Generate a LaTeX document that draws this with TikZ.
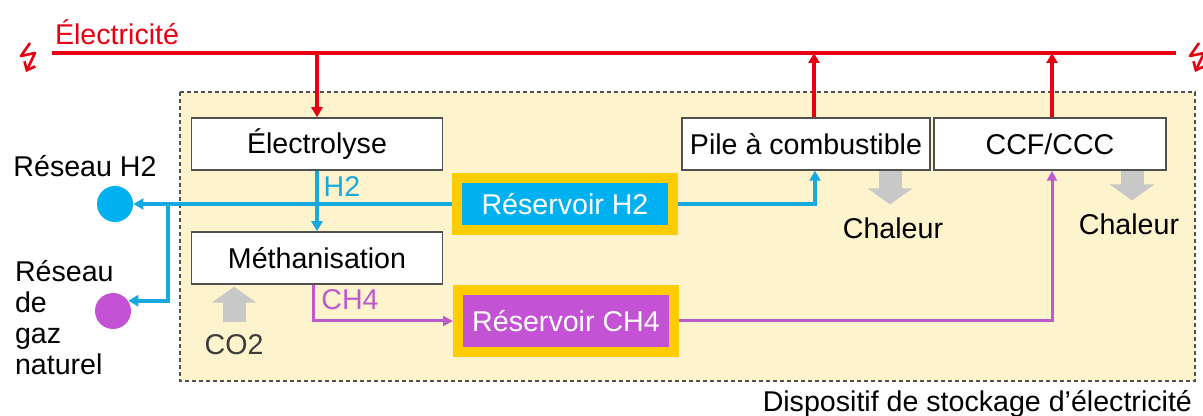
\documentclass[tikz,border=0pt]{standalone}
\usepackage{fontspec}
\setmainfont{Liberation Sans}
\usetikzlibrary{arrows.meta}

\definecolor{elecred}{RGB}{230,0,18}
\definecolor{h2line}{RGB}{24,168,224}
\definecolor{h2fill}{RGB}{0,176,240}
\definecolor{ch4line}{RGB}{190,90,205}
\definecolor{ch4fill}{RGB}{196,82,212}
\definecolor{rimyellow}{RGB}{255,204,0}
\definecolor{zonefill}{RGB}{253,243,205}
\definecolor{framegray}{RGB}{80,80,80}
\definecolor{heatgray}{RGB}{200,200,200}
\definecolor{textgray}{RGB}{60,60,60}

\tikzset{zap/.pic={
  \draw[elecred,line width=1.3pt,line join=round,-{Straight Barb[length=3.5pt,width=6pt]}] (2,-14) -- (-7,-1) -- (7,-4) -- (-2,15);
}}

\begin{document}
\begin{tikzpicture}[x=0.5pt,y=-0.5pt,
  font=\fontsize{14.3}{15.5}\selectfont,
  unit/.style={draw=framegray,line width=0.75pt,fill=white,minimum width=125.5pt,minimum height=26pt,inner sep=2pt},
  tank/.style={draw=rimyellow,line width=5pt,text=white,minimum width=108pt,minimum height=26.25pt},
  net/.style={circle,minimum size=18pt,inner sep=0pt},
  power/.style={draw=elecred,line width=2pt,-{Triangle[length=5pt,width=5.5pt]}},
  hydro/.style={draw=h2line,line width=2pt,-{Triangle[length=5pt,width=5.5pt]}},
  methane/.style={draw=ch4line,line width=1.5pt,-{Triangle[length=5pt,width=5pt]}},
  heat/.style={draw=heatgray,line width=11.5pt,-{Triangle[length=8pt,width=22pt]}}]
  \useasboundingbox (0,0) rectangle (1203,416);

  % Storage zone
  \draw[draw=framegray,dash pattern=on 2pt off 1.5pt,line width=0.75pt,fill=zonefill] (180,92) rectangle (1195,381);
  \node[anchor=east] (lblzone) at (1199,404) {Dispositif de stockage d’électricité};

  % Grid
  \coordinate (busL) at (52,53);
  \coordinate (busR) at (1176,53);
  \draw[elecred,line width=2pt] (busL) -- (busR);
  \pic at (28,57) {zap};
  \pic at (1197,57) {zap};
  \node[text=elecred,anchor=west] (lblelec) at (48,32) {Électricité};

  % Units
  \node[unit] (electro) at (317,144) {Électrolyse};
  \node[unit] (metha) at (317,258) {Méthanisation};
  \node[unit,minimum width=124pt] (pile) at (806,144) {Pile à combustible};
  \node[unit,minimum width=116pt] (ccf) at (1050,144) {CCF/CCC};
  \node[tank,fill=h2fill] (h2tank) at (565,204) {Réservoir H2};
  \node[tank,fill=ch4fill,minimum height=30.75pt] (ch4tank) at (566,321) {Réservoir CH4};

  % Networks
  \node[net,fill=h2fill] (netH2) at (115,204) {};
  \node[net,fill=ch4fill] (netgas) at (113,311) {};
  \node (lblnetH2) at (85,166) {Réseau H2};
  \node[align=left,anchor=west] (lblnetgas) at (8,318) {Réseau\\de\\gaz\\naturel};

  % Labels
  \node[text=h2line] (lblH2) at (342,187) {H2};
  \node[text=ch4line] (lblCH4) at (350,300) {CH4};
  \node[text=textgray] (co2) at (234,345) {CO2};
  \node (heat1) at (893,228) {Chaleur};
  \node (heat2) at (1129,224) {Chaleur};

  % Electricity
  \draw[power] (electro.north |- busL) -- (electro.north);
  \draw[power] ([xshift=4pt]pile.north) -- ([xshift=4pt]pile.north |- busL);
  \draw[power] ([xshift=1pt]ccf.north) -- ([xshift=1pt]ccf.north |- busL);

  % Hydrogen
  \coordinate (split) at (168,204);
  \draw[hydro] (h2tank.west) -- (netH2);
  \draw[hydro] (split) |- (netgas.34);
  \draw[hydro] (electro) -- (metha);
  \draw[hydro] (h2tank.east) -| ([xshift=4.5pt]pile.south);

  % Methane
  \draw[methane] ([xshift=-2pt]metha.south) |- (ch4tank.west);
  \draw[methane] (ch4tank.east) -| ([xshift=1pt]ccf.south);

  % Heat and CO2
  \draw[heat,shorten <=3pt,shorten >=1pt] (co2.north) -- (co2.north |- metha.south);
  \draw[heat,shorten >=3pt] ([xshift=-1.5pt]heat1.north |- pile.south) -- ([xshift=-1.5pt]heat1.north);
  \draw[heat,shorten >=3pt] ([xshift=1.5pt]heat2.north |- ccf.south) -- ([xshift=1.5pt]heat2.north);
\end{tikzpicture}
\end{document}
